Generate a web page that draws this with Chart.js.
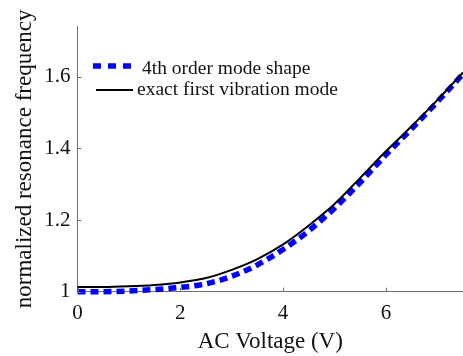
<!DOCTYPE html>
<html>
<head>
<meta charset="utf-8">
<script src="https://cdn.jsdelivr.net/npm/chart.js@4/dist/chart.umd.min.js"></script>
<style>
html,body{margin:0;padding:0;background:#fff;}
</style>
</head>
<body>
<canvas id="grafico" width="463" height="356"></canvas>
<script>
// dados
const voltagem = [0, 0.5, 1, 1.5, 2, 2.5, 3, 3.5, 4, 4.5, 5, 5.5, 6, 6.5, 7, 7.5];
const modo4 = [1.000, 1.000, 1.002, 1.006, 1.012, 1.022, 1.043, 1.075, 1.118, 1.170, 1.233, 1.305, 1.382, 1.455, 1.530, 1.608];
const exato = [1.013, 1.013, 1.015, 1.019, 1.026, 1.038, 1.061, 1.091, 1.132, 1.185, 1.245, 1.318, 1.392, 1.462, 1.535, 1.612];
const ticksX = [0, 2, 4, 6];
const ticksY = [1, 1.2, 1.4, 1.6];
const legendas = ["4th order mode shape", "exact first vibration mode"];

const fonte = "'Liberation Serif', 'Times New Roman', serif";
const corEixo = "#6e6e6e";

function pontos(ys){
return voltagem.map((v, i) => ({x: v, y: ys[i]}));
}

/* marcas dos ticks para dentro */
const marcas = {
id: "marcas",
afterDraw(chart){
const ctx = chart.ctx;
const x = chart.scales.x, y = chart.scales.y;
ctx.save();
ctx.strokeStyle = corEixo;
ctx.lineWidth = 1;
ctx.beginPath();
ticksX.forEach(t => {
const px = Math.round(x.getPixelForValue(t)) + 0.5;
ctx.moveTo(px, y.bottom);
ctx.lineTo(px, y.bottom - 4);
});
ticksY.forEach(t => {
const py = Math.round(y.getPixelForValue(t)) + 0.5;
ctx.moveTo(x.left, py);
ctx.lineTo(x.left + 4, py);
});
ctx.stroke();
ctx.restore();
}
};

/* legenda dentro do gráfico */
const legenda = {
id: "legenda",
afterDraw(chart){
const ctx = chart.ctx;
const itens = [
{ds: chart.data.datasets[1], x0: 93, x1: 133, y: 66, tx: 142, base: 74},
{ds: chart.data.datasets[0], x0: 96, x1: 133, y: 90, tx: 137, base: 95}
];
ctx.save();
itens.forEach(it => {
ctx.strokeStyle = it.ds.borderColor;
ctx.lineWidth = it.ds.borderWidth;
ctx.setLineDash(it.ds.borderDash ? [8, 7] : []);
ctx.lineCap = "butt";
ctx.beginPath();
ctx.moveTo(it.x0, it.y);
ctx.lineTo(it.x1, it.y);
ctx.stroke();
ctx.setLineDash([]);
ctx.fillStyle = "#111";
ctx.font = "19.5px " + fonte;
ctx.textBaseline = "alphabetic";
ctx.textAlign = "left";
ctx.fillText(it.ds.label, it.tx, it.base);
});
ctx.restore();
}
};

new Chart(document.getElementById("grafico"), {
type: "line",
data: {
datasets: [
{
label: legendas[1],
data: pontos(exato),
borderColor: "#000000",
borderWidth: 2,
pointRadius: 0,
cubicInterpolationMode: "monotone",
clip: false
},
{
label: legendas[0],
data: pontos(modo4),
borderColor: "#0000ff",
borderWidth: 5.5,
borderDash: [8, 5],
pointRadius: 0,
cubicInterpolationMode: "monotone",
clip: false
}
]
},
options: {
responsive: false,
animation: false,
events: [],
layout: {padding: {top: 26, right: 0, left: 0, bottom: 0}},
plugins: {
legend: {display: false},
tooltip: {enabled: false}
},
scales: {
x: {
type: "linear",
min: 0,
max: 7.5,
afterBuildTicks: s => { s.ticks = ticksX.map(v => ({value: v})); },
afterFit: s => { s.height = 64.3; },
grid: {display: false, drawTicks: false},
border: {color: corEixo, width: 1},
ticks: {
color: "#111",
padding: 9,
maxRotation: 0,
font: {family: fonte, size: 21},
callback: v => String(v)
},
title: {
display: true,
text: "AC Voltage (V)",
color: "#111",
padding: {top: 0, bottom: 0},
font: {family: fonte, size: 23}
}
},
y: {
type: "linear",
min: 1,
max: 1.742,
afterBuildTicks: s => { s.ticks = ticksY.map(v => ({value: v})); },
afterFit: s => { s.width = 77.5; },
grid: {display: false, drawTicks: false},
border: {color: corEixo, width: 1},
ticks: {
color: "#111",
padding: 7,
font: {family: fonte, size: 21},
callback: v => String(+v.toFixed(1))
},
title: {
display: true,
text: "normalized resonance frequency",
color: "#111",
padding: {top: 11, bottom: 0},
font: {family: fonte, size: 23}
}
}
}
},
plugins: [marcas, legenda]
});
</script>
</body>
</html>
